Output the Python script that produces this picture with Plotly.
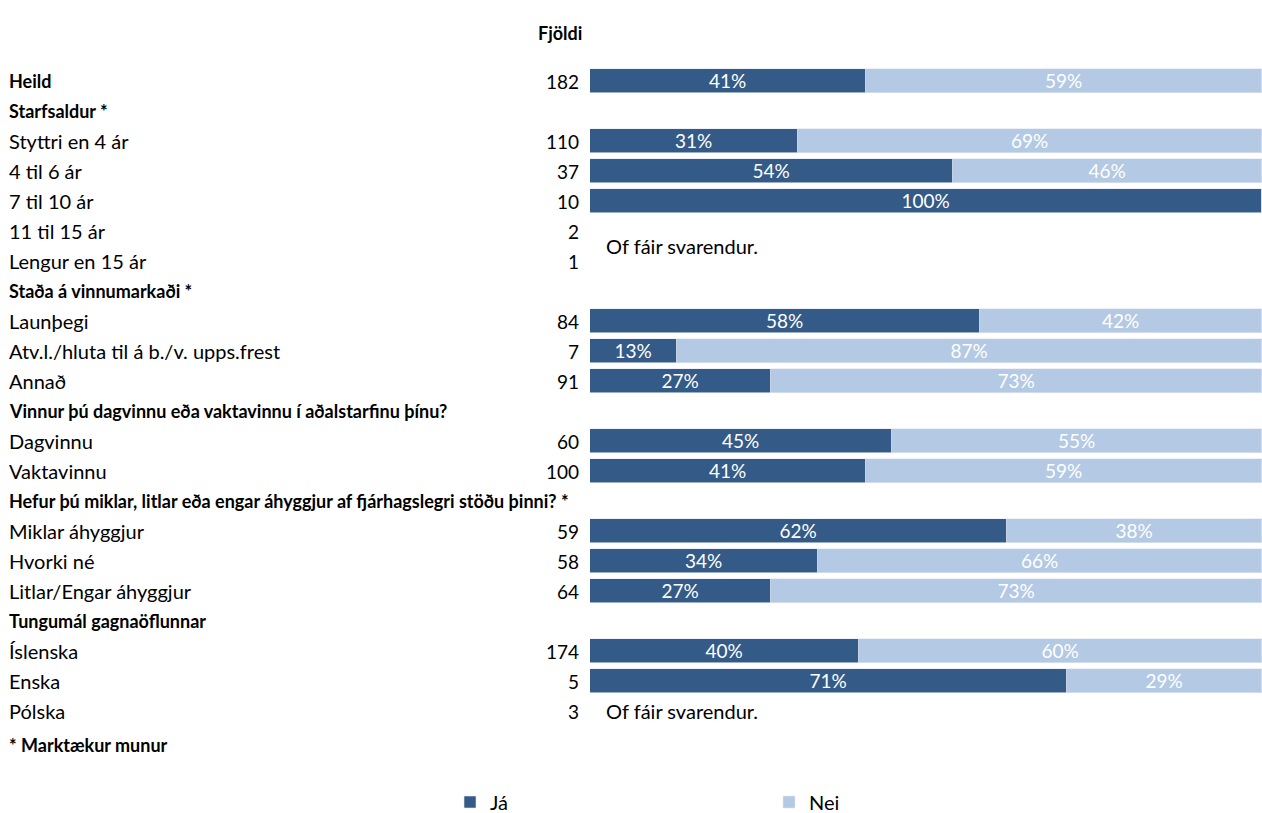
import plotly.graph_objects as go

labels = ["Heild", "Starfsaldur *", "Styttri en 4 ár", "4 til 6 ár", "7 til 10 ár",
          "11 til 15 ár", "Lengur en 15 ár", "Staða á vinnumarkaði *", "Launþegi",
          "Atv.l./hluta til á b./v. upps.frest", "Annað",
          "Vinnur þú dagvinnu eða vaktavinnu í aðalstarfinu þínu?", "Dagvinnu", "Vaktavinnu",
          "Hefur þú miklar, litlar eða engar áhyggjur af fjárhagslegri stöðu þinni? *",
          "Miklar áhyggjur", "Hvorki né", "Litlar/Engar áhyggjur", "Tungumál gagnaöflunnar",
          "Íslenska", "Enska", "Pólska"]
bold_rows = [True, True, False, False, False, False, False, True, False, False, False,
             True, False, False, True, False, False, False, True, False, False, False]
counts = [182, None, 110, 37, 10, 2, 1, None, 84, 7, 91, None, 60, 100, None, 59, 58, 64,
          None, 174, 5, 3]
ja = [41, None, 31, 54, 100, None, None, None, 58, 13, 27, None, 45, 41, None, 62, 34, 27,
      None, 40, 71, None]
nei = [59, None, 69, 46, 0, None, None, None, 42, 87, 73, None, 55, 59, None, 38, 66, 73,
       None, 60, 29, None]
footnote = "* Marktækur munur"
too_few = "Of fáir svarendur."
col_title = "Fjöldi"

W, H = 1262, 813
PLOT_BOTTOM = 752
FONT = "Lato"
FS = 19        # numbers
FS_REG = 20    # regular labels
FS_BOLD = 18   # bold labels
DARK = "#345a87"
LIGHT = "#b4c9e3"

ROW0 = 81   # centre of the first row (px)
STEP = 30

def px_x(p):  # px -> paper fraction
    return p / W

rows = list(range(len(labels)))

def txt(vals):
    return [f"{v}%" if v else "" for v in vals]

fig = go.Figure()
for name, vals, col in (("Já", ja, DARK), ("Nei", nei, LIGHT)):
    fig.add_trace(go.Bar(
        y=rows, x=vals, orientation="h", name=name,
        marker=dict(color=col, line=dict(color="#e3eaf3", width=0.6)),
        text=txt(vals), textposition="inside", insidetextanchor="middle",
        constraintext="none", textangle=0,
        insidetextfont=dict(color="white", size=FS, family=FONT), width=0.83, hoverinfo="skip"))

ann = []
for i, (lab, b) in enumerate(zip(labels, bold_rows)):
    ann.append(dict(x=px_x(7), y=i, xref="paper", yref="y", xanchor="left", yanchor="middle",
                    text=f"<b>{lab}</b>" if b else lab, showarrow=False,
                    font=dict(size=FS_BOLD if b else FS_REG, color="black", family=FONT)))
    if counts[i] is not None:
        ann.append(dict(x=px_x(581), y=i, xref="paper", yref="y", xanchor="right", yanchor="middle",
                        text=str(counts[i]), showarrow=False,
                        font=dict(size=FS, color="black", family=FONT)))
ann.append(dict(x=px_x(7), y=(745 - ROW0) / STEP, xref="paper", yref="y", xanchor="left", yanchor="middle",
                text=f"<b>{footnote}</b>", showarrow=False, font=dict(size=FS_BOLD, color="black", family=FONT)))
ann.append(dict(x=px_x(604), y=5.5, xref="paper", yref="y", xanchor="left", yanchor="middle",
                text=too_few, showarrow=False, font=dict(size=FS_REG, color="black", family=FONT)))
ann.append(dict(x=px_x(604), y=21, xref="paper", yref="y", xanchor="left", yanchor="middle",
                text=too_few, showarrow=False, font=dict(size=FS_REG, color="black", family=FONT)))
ann.append(dict(x=px_x(560), y=1 - 33 / PLOT_BOTTOM, xref="paper", yref="paper",
                xanchor="center", yanchor="middle",
                text=f"<b>{col_title}</b>", showarrow=False, font=dict(size=FS_BOLD, color="black", family=FONT)))

fig.update_layout(
    width=W, height=H, barmode="stack", bargap=0,
    margin=dict(l=0, r=0, t=0, b=H - PLOT_BOTTOM, autoexpand=False),
    paper_bgcolor="white", plot_bgcolor="white",
    font=dict(family=FONT, size=FS, color="black"),
    xaxis=dict(domain=[px_x(590), 1], range=[0, 100], visible=False, fixedrange=True),
    yaxis=dict(range=[(PLOT_BOTTOM - ROW0) / STEP, -ROW0 / STEP], visible=False, fixedrange=True),
    annotations=ann,
    showlegend=True,
    legend=dict(orientation="h", xref="container", yref="container",
                x=450 / W, y=1 - 802 / H,
                xanchor="left", yanchor="middle", entrywidth=274, entrywidthmode="pixels",
                font=dict(size=FS_REG, family=FONT, color="black"), traceorder="normal"),
)

fig.write_html("out.html", config={"displayModeBar": False},
               post_script="document.body.style.margin='0';document.body.style.overflow='hidden';")
